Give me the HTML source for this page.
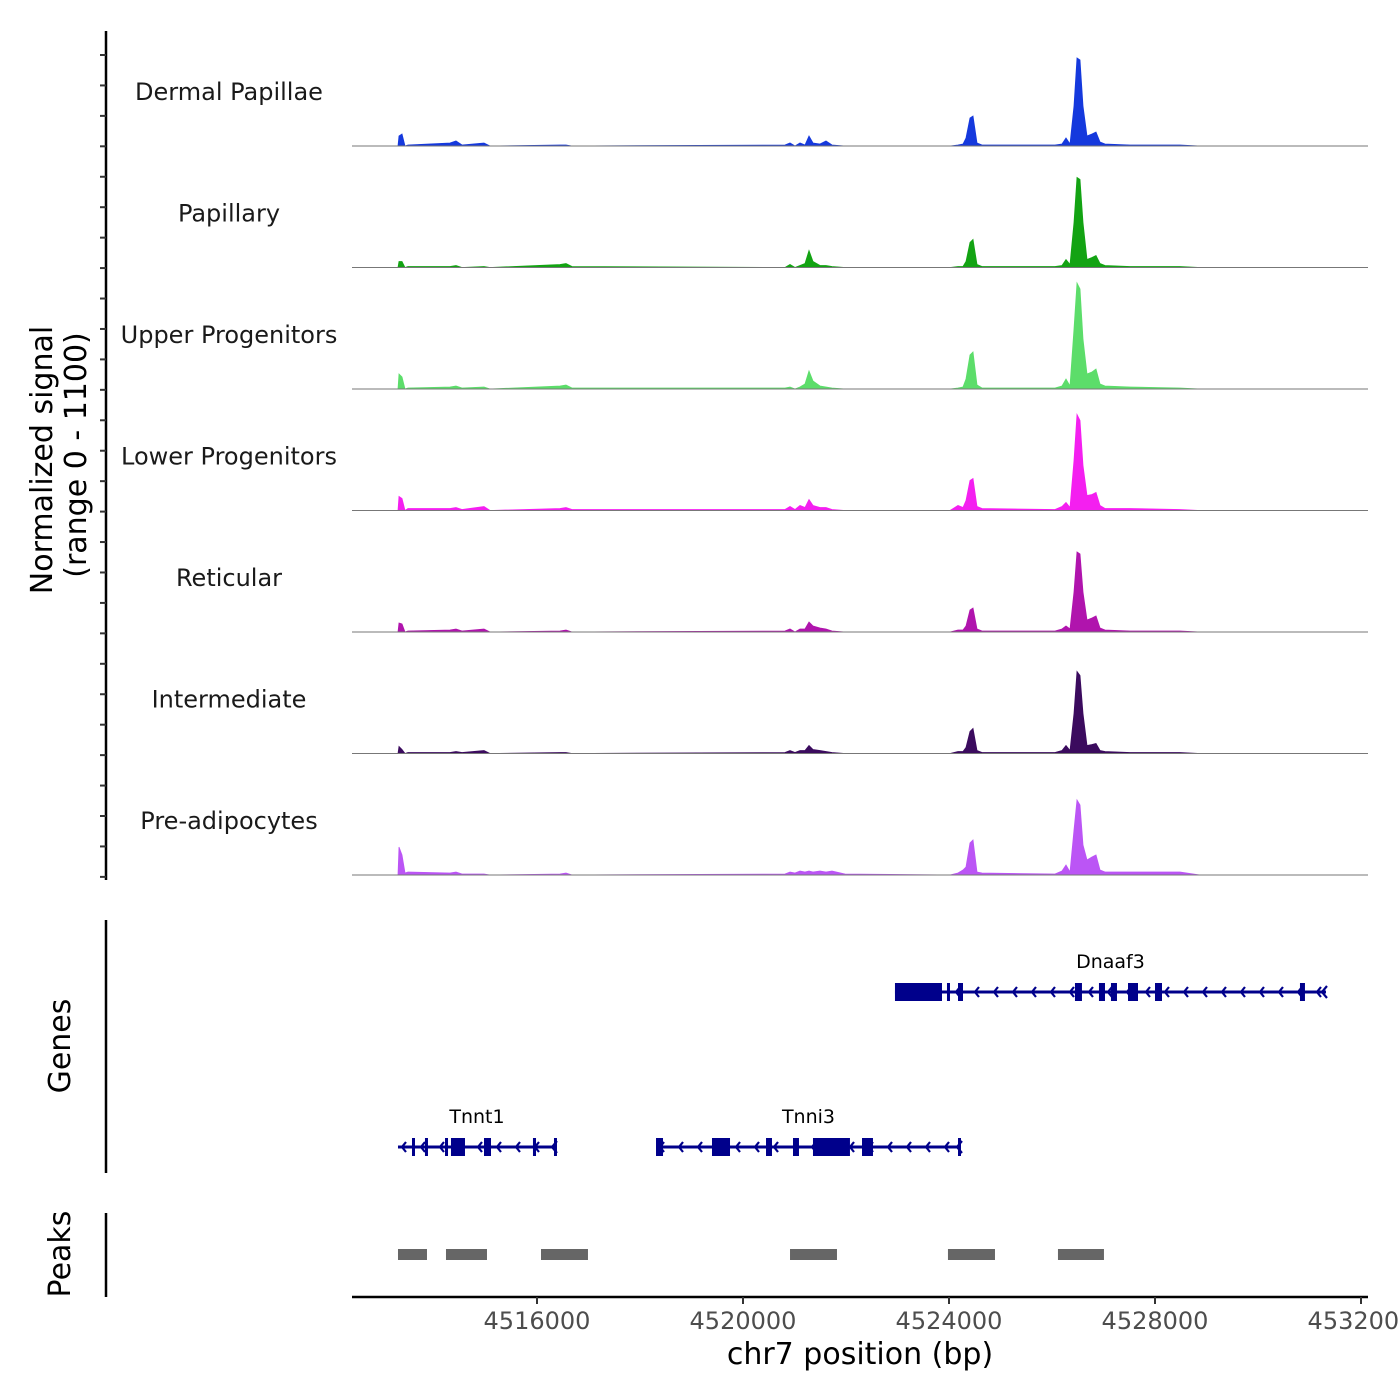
<!DOCTYPE html>
<html><head><meta charset="utf-8">
<style>
html,body{margin:0;padding:0;background:#fff;}
svg{display:block;font-family:"DejaVu Sans","Liberation Sans",sans-serif;}
</style></head>
<body>
<svg id="chart" width="1400" height="1400" viewBox="0 0 1400 1400"></svg>
<script>
// ---- data ----
const trackNames = ["Dermal Papillae","Papillary","Upper Progenitors","Lower Progenitors","Reticular","Intermediate","Pre-adipocytes"];
const trackColors = ["#1539dd","#13a313","#5cdd6a","#f41ff0","#b014ad","#3b0b5e","#bb55f5"];
const signalPos = [4512408,4513301,4513320,4513379,4513437,4513495,4514311,4514427,4514544,4514971,4515087,4516447,4516563,4516680,4520815,4520913,4521010,4521107,4521204,4521281,4521359,4521495,4521612,4521728,4521980,4524019,4524175,4524272,4524330,4524408,4524466,4524543,4524641,4526058,4526194,4526272,4526349,4526427,4526485,4526543,4526602,4526679,4526776,4526854,4526932,4527029,4527514,4528485,4528873,4532136];
const sigDP    = [0,0,10,12,0,1,3,5,1,3, 0,1,1,0,1,3,0,3,1,10, 3,2,5,1,0,0,1,2,8,28,30, 3,1,1,2,8,2,40,88,86,40, 10,12,14,4,2,1,1,0,0];
const sigPap   = [0,0,6,6,0,1,1,2,0,1, 0,3,4,1,0,3,0,2,4,17, 6,2,2,1,0,0,1,1,6,25,28, 3,1,1,2,8,3,45,90,88,45, 8,10,12,4,2,1,1,0,0];
const sigUpper = [0,0,15,12,0,1,2,3,1,2, 0,3,4,1,1,2,0,2,5,18, 8,3,2,1,0,0,1,2,10,34,37, 4,1,1,3,10,3,60,106,100,50, 15,17,20,5,3,2,1,0,0];
const sigLower = [0,0,14,12,0,2,2,3,1,4, 0,2,3,1,1,4,1,5,3,11, 5,3,3,1,0,0,5,3,10,30,32, 4,2,1,4,8,3,50,96,90,45, 15,16,18,5,2,2,1,0,0];
const sigRet   = [0,0,9,8,0,1,2,3,1,3, 0,1,2,0,1,3,0,3,3,10, 6,4,3,1,0,0,2,2,6,22,24, 3,1,1,3,6,3,40,80,78,40, 12,14,16,4,2,1,1,0,0];
const sigInter = [0,0,7,4,0,1,1,2,1,3, 0,1,1,0,1,3,1,3,3,8, 4,3,2,1,0,0,2,2,6,22,25, 3,1,1,3,8,3,40,82,78,40, 8,9,10,3,2,1,1,0,0];
const sigPre   = [0,0,28,20,2,3,2,3,1,1, 0,1,2,0,1,3,2,4,3,4, 3,4,3,4,1,0,2,5,8,32,35, 3,2,1,4,10,3,45,75,70,30, 15,18,20,5,3,3,3,0,0];
const signals = [sigDP,sigPap,sigUpper,sigLower,sigRet,sigInter,sigPre];
const signalMax = 121;
const geneNames = ["Dnaaf3","Tnnt1","Tnni3"];
const geneStarts = [4522951,4513301,4518311];
const geneEnds = [4531320,4516369,4524233];
const geneRow = [0,1,1];
const dnaaf3Exons = [[4522951,4523864],[4523961,4524019],[4524175,4524272],[4526446,4526582],[4526912,4527029],[4527145,4527262],[4527476,4527670],[4528000,4528136],[4530815,4530912]];
const tnnt1Exons = [[4513573,4513612],[4513825,4513864],[4514214,4514253],[4514330,4514602],[4514971,4515107],[4515922,4515981],[4516330,4516369]];
const tnni3Exons = [[4518311,4518447],[4519398,4519748],[4520447,4520563],[4520971,4521087],[4521359,4522077],[4522311,4522524],[4524175,4524233]];
const geneExons = [dnaaf3Exons,tnnt1Exons,tnni3Exons];
const peakStarts = [4513301,4514233,4516078,4520913,4523980,4526116];
const peakEnds = [4513864,4515029,4516990,4521825,4524893,4527009];
const xTicks = [4516000,4520000,4524000,4528000,4532000];
const xTickLabels = ["4516000","4520000","4524000","4528000","4532000"];

// ---- scales ----
const X0 = 352, X1 = 1368, BP0 = 4512408, BP1 = 4532136;
function xs(bp){ return X0 + (bp-BP0)/(BP1-BP0)*(X1-X0); }
const trackBase0 = 146, trackStep = 121.5, trackH = 121;
function ys(i,v){ return trackBase0 + i*trackStep - v/signalMax*trackH; }

const NS="http://www.w3.org/2000/svg";
const svg=document.getElementById('chart');
function mk(tag,attrs,parent){const e=document.createElementNS(NS,tag);for(const k in attrs)e.setAttribute(k,attrs[k]);(parent||svg).appendChild(e);return e;}

// left axis
const ax=mk('g',{});


mk('line',{x1:106,y1:31,x2:106,y2:880,stroke:'#000','stroke-width':2.5},ax);
for(let k=0;k<28;k++){const y=55+k*30.44;mk('line',{x1:100,y1:y,x2:106,y2:y,stroke:'#333','stroke-width':2},ax);}
const t1=mk('text',{x:0,y:0,transform:'translate(52,460) rotate(-90)','text-anchor':'middle','font-size':30,fill:'#000'});
t1.textContent='Normalized signal';


const t2=mk('text',{x:0,y:0,transform:'translate(86,455) rotate(-90)','text-anchor':'middle','font-size':30,fill:'#000'});
t2.textContent='(range 0 - 1100)';



// tracks
for(let i=0;i<7;i++){
  const g=mk('g',{});
  
  
  const base=trackBase0+i*trackStep;
  let d='M'+xs(signalPos[0])+','+base;
  for(let j=0;j<signalPos.length;j++){d+=' L'+xs(signalPos[j]).toFixed(1)+','+ys(i,signals[i][j]).toFixed(1);}
  d+=' L'+xs(signalPos[signalPos.length-1])+','+base+' Z';
  const p=mk('path',{d:d,fill:trackColors[i],stroke:trackColors[i],'stroke-width':0.8},g);
  
  
  mk('line',{x1:X0,y1:base,x2:X1,y2:base,stroke:'#777','stroke-width':1},g);
  const lb=mk('text',{x:229,y:base-46,'text-anchor':'middle','font-size':24,fill:'#1a1a1a'},g);
  lb.textContent=trackNames[i];
  
  
}

// genes panel
const ga=mk('line',{x1:106,y1:920,x2:106,y2:1173,stroke:'#000','stroke-width':2.5});


const gt=mk('text',{x:0,y:0,transform:'translate(70,1046) rotate(-90)','text-anchor':'middle','font-size':30,fill:'#000'});
gt.textContent='Genes';


const rowY=[992,1147];
for(let g=0;g<geneNames.length;g++){
  const grp=mk('g',{});
  
  
  const y=rowY[geneRow[g]];
  const xa=xs(geneStarts[g]), xb=xs(geneEnds[g]);
  mk('line',{x1:xa,y1:y,x2:xb,y2:y,stroke:'#00008b','stroke-width':3},grp);
  for(let cx=xa+4;cx<xb-6;cx+=19){
    mk('polyline',{points:(cx+4)+','+(y-5)+' '+cx+','+y+' '+(cx+4)+','+(y+5),fill:'none',stroke:'#00008b','stroke-width':2.2},grp);
  }
  mk('polyline',{points:(xb+1)+','+(y-6)+' '+(xb-4)+','+y+' '+(xb+1)+','+(y+6),fill:'none',stroke:'#00008b','stroke-width':2.2},grp);
  geneExons[g].forEach(e=>{
    const r=mk('rect',{x:xs(e[0]),y:y-9,width:Math.max(3,xs(e[1])-xs(e[0])),height:18,fill:'#00008b'},grp);
    
    
  });
  const lt=mk('text',{x:(xa+xb)/2,y:y-24,'text-anchor':'middle','font-size':19,fill:'#000'},grp);
  lt.textContent=geneNames[g];
  
  
}

// peaks panel
const pa=mk('line',{x1:106,y1:1213,x2:106,y2:1297,stroke:'#000','stroke-width':2.5});


const pt=mk('text',{x:0,y:0,transform:'translate(70,1254) rotate(-90)','text-anchor':'middle','font-size':30,fill:'#000'});
pt.textContent='Peaks';


for(let k=0;k<peakStarts.length;k++){
  const r=mk('rect',{x:xs(peakStarts[k]),y:1249,width:xs(peakEnds[k])-xs(peakStarts[k]),height:11,fill:'#666'});
  
  
}

// x axis
const xa=mk('g',{});


mk('line',{x1:X0,y1:1297,x2:X1,y2:1297,stroke:'#000','stroke-width':2.5},xa);
xTicks.forEach((t,k)=>{
  const x=xs(t);
  mk('line',{x1:x,y1:1297,x2:x,y2:1304,stroke:'#333','stroke-width':2},xa);
  const tl=mk('text',{x:x,y:1329,'text-anchor':'middle','font-size':24,fill:'#4d4d4d'},xa);
  tl.textContent=xTickLabels[k];
  
  
});
const xt=mk('text',{x:860,y:1364,'text-anchor':'middle','font-size':30,fill:'#000'});
xt.textContent='chr7 position (bp)';


</script>
</body></html>
